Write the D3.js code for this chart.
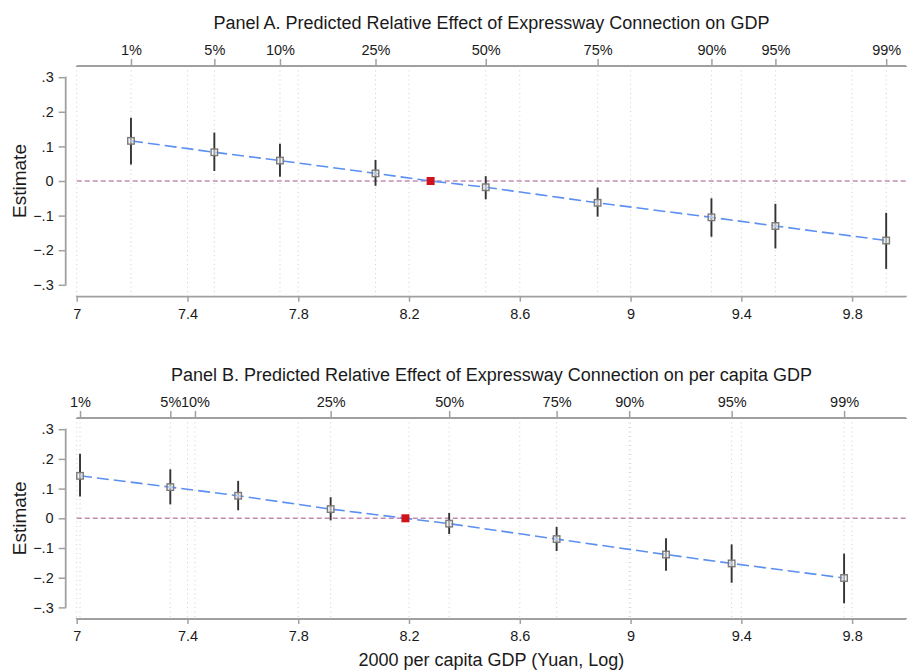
<!DOCTYPE html>
<html>
<head>
<meta charset="utf-8">
<script src="https://cdn.jsdelivr.net/npm/d3@7/dist/d3.min.js"></script>
<style>
  html, body { margin: 0; padding: 0; background: #fff; }
  svg { display: block; font-family: "Liberation Sans", Arial, sans-serif; }
</style>
</head>
<body>
<svg id="chart" width="909" height="670"></svg>
<script>
// ---------- data ----------
const pctLabels = ["1%", "5%", "10%", "25%", "50%", "75%", "90%", "95%", "99%"];
const xTicks = [7, 7.4, 7.8, 8.2, 8.6, 9, 9.4, 9.8];
const yTicks = [0.3, 0.2, 0.1, 0, -0.1, -0.2, -0.3];

// Panel A
const titleA = "Panel A. Predicted Relative Effect of Expressway Connection on GDP";
const pctPosA = [7.196, 7.497, 7.734, 8.079, 8.477, 8.881, 9.292, 9.523, 9.923];
const pointXA = [7.196, 7.497, 7.734, 8.079, 8.477, 8.881, 9.292, 9.523, 9.923];
const estA = [0.116, 0.083, 0.059, 0.022, -0.018, -0.063, -0.105, -0.130, -0.172];
const loA  = [0.048, 0.029, 0.012, -0.014, -0.053, -0.103, -0.161, -0.195, -0.254];
const hiA  = [0.183, 0.140, 0.108, 0.061, 0.014, -0.019, -0.050, -0.066, -0.092];
const meanA = 8.278;

// Panel B
const titleB = "Panel B. Predicted Relative Effect of Expressway Connection on per capita GDP";
const pctPosB = [7.012, 7.338, 7.427, 7.917, 8.345, 8.733, 8.995, 9.365, 9.771];
const pointXB = [7.012, 7.338, 7.583, 7.917, 8.345, 8.733, 9.128, 9.365, 9.771];
const estB = [0.143, 0.105, 0.076, 0.031, -0.018, -0.070, -0.122, -0.152, -0.201];
const loB  = [0.073, 0.047, 0.027, -0.007, -0.053, -0.110, -0.177, -0.217, -0.286];
const hiB  = [0.217, 0.165, 0.126, 0.071, 0.018, -0.029, -0.067, -0.088, -0.119];
const meanB = 8.187;

const xTitle = "2000 per capita GDP (Yuan, Log)";
const yTitle = "Estimate";

// ---------- drawing ----------
const svg = d3.select("#chart");
const x = d3.scaleLinear().domain([7, 10]).range([76.7, 907.5]);
const xEnd = 9.995;
const AXIS = "#a0a0a0";

function fmtY(v) {
  if (Math.abs(v) < 1e-9) return "0";
  const s = d3.format(".1f")(v);
  return s.replace("0.", ".");
}

function panel(cfg) {
  const y = d3.scaleLinear().domain([-0.3, 0.3]).range([cfg.yBot, cfg.yTop]);
  const g = svg.append("g");
  const top = cfg.regTop, bot = cfg.regBot;

  // grid lines (bottom ticks + percentile positions)
  const gridX = xTicks.concat(cfg.pct);
  g.append("g").selectAll("line").data(gridX).join("line")
    .attr("x1", d => x(d)).attr("x2", d => x(d))
    .attr("y1", top).attr("y2", bot)
    .attr("stroke", "#cfcfcf").attr("stroke-width", 1)
    .attr("stroke-dasharray", "1,3.5");

  // zero reference line
  g.append("line")
    .attr("x1", x(7)).attr("x2", x(xEnd))
    .attr("y1", y(0)).attr("y2", y(0))
    .attr("stroke", "#c28cb3").attr("stroke-width", 1.5)
    .attr("stroke-dasharray", "5,3");

  // left axis
  const ya = d3.axisLeft(y).tickValues(yTicks).tickFormat(fmtY).tickSize(7).tickPadding(5);
  const yg = g.append("g").attr("transform", `translate(${cfg.leftX},0)`).call(ya);
  yg.select(".domain").attr("d", `M-0.01,${y(0.3)}H0V${y(-0.3)}H-0.01`);

  // bottom axis
  const xa = d3.axisBottom(x).tickValues(xTicks).tickFormat(d3.format("")).tickSize(5).tickPadding(7);
  const xg = g.append("g").attr("transform", `translate(0,${bot})`).call(xa);
  xg.select(".domain").attr("d", `M${x(7)},0.01V0H${x(xEnd)}V0.01`);

  // top axis (percentiles)
  const ta = d3.axisTop(x).tickValues(cfg.pct).tickFormat((d, i) => pctLabels[i]).tickSize(7).tickPadding(4);
  const tg = g.append("g").attr("transform", `translate(0,${top})`).call(ta);
  tg.select(".domain").attr("d", `M${x(7)},-0.01V0H${x(xEnd)}V-0.01`);

  [yg, xg, tg].forEach(a => {
    a.selectAll(".domain").attr("stroke", AXIS).attr("stroke-width", 1.8).attr("fill", "none");
    a.selectAll(".tick line").attr("stroke", AXIS).attr("stroke-width", 1.5);
    a.selectAll(".tick text").attr("fill", "#1a1a1a").attr("font-size", 14.5)
      .attr("font-family", '"Liberation Sans", Arial, sans-serif');
  });

  // title
  g.append("text").attr("x", (x(7) + x(xEnd)) / 2).attr("y", cfg.titleY)
    .attr("text-anchor", "middle").attr("font-size", 18).attr("fill", "#1a1a1a")
    .text(cfg.title);

  // y title
  g.append("text")
    .attr("transform", `translate(${cfg.yTitleX},${y(0)}) rotate(-90)`)
    .attr("text-anchor", "middle").attr("dy", "0.35em")
    .attr("font-size", 19).attr("fill", "#1a1a1a").text(yTitle);

  const pts = cfg.px.map((d, i) => ({ x: d, e: cfg.est[i], lo: cfg.lo[i], hi: cfg.hi[i] }));

  // CI lines
  g.append("g").selectAll("line").data(pts).join("line")
    .attr("x1", d => x(d.x)).attr("x2", d => x(d.x))
    .attr("y1", d => y(d.lo)).attr("y2", d => y(d.hi))
    .attr("stroke", "#333").attr("stroke-width", 1.9);

  // fitted line through points (incl. mean)
  const linePts = pts.map(d => [d.x, d.e]).concat([[cfg.mean, 0]]).sort((a, b) => a[0] - b[0]);
  g.append("path").datum(linePts)
    .attr("d", d3.line().x(d => x(d[0])).y(d => y(d[1])))
    .attr("fill", "none").attr("stroke", "#5b8ff2").attr("stroke-width", 1.6)
    .attr("stroke-dasharray", "12,5");

  // hollow squares
  const s = 6.5;
  g.append("g").selectAll("rect").data(pts).join("rect")
    .attr("x", d => x(d.x) - s / 2).attr("y", d => y(d.e) - s / 2)
    .attr("width", s).attr("height", s)
    .attr("fill", "#f0f0f0").attr("fill-opacity", 0.6)
    .attr("stroke", "#7a7a7a").attr("stroke-width", 1.4);

  // mean point
  const m = 8;
  g.append("rect").attr("x", x(cfg.mean) - m / 2).attr("y", y(0) - m / 2)
    .attr("width", m).attr("height", m).attr("fill", "#d0121b");

  if (cfg.xTitle) {
    g.append("text").attr("x", (x(7) + x(xEnd)) / 2).attr("y", cfg.xTitleY)
      .attr("text-anchor", "middle").attr("font-size", 18).attr("fill", "#1a1a1a")
      .text(cfg.xTitle);
  }
}

panel({
  title: titleA, titleY: 29, pct: pctPosA, px: pointXA, est: estA, lo: loA, hi: hiA, mean: meanA,
  yTop: 77.2, yBot: 284.8, regTop: 66, regBot: 296.7, leftX: 65.7, yTitleX: 19
});
panel({
  title: titleB, titleY: 381, pct: pctPosB, px: pointXB, est: estB, lo: loB, hi: hiB, mean: meanB,
  yTop: 429.2, yBot: 607.4, regTop: 418, regBot: 619, leftX: 65.7, yTitleX: 19,
  xTitle: xTitle, xTitleY: 666
});
</script>
</body>
</html>
